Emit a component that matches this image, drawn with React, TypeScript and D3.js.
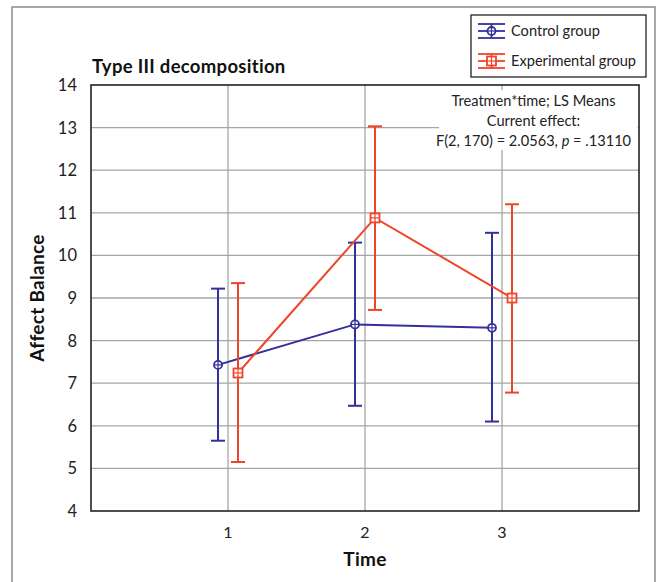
import React from "react";
import { scaleLinear, line } from "d3";

const times = [1, 2, 3];
const yTicks = [4, 5, 6, 7, 8, 9, 10, 11, 12, 13, 14];
const seriesNames = ["Control group", "Experimental group"];
const controlMean = [7.43, 8.38, 8.3];
const controlHigh = [9.22, 10.3, 10.53];
const controlLow = [5.65, 6.47, 6.1];
const expMean = [7.24, 10.88, 9.0];
const expHigh = [9.35, 13.03, 11.2];
const expLow = [5.15, 8.72, 6.78];
const annotation = ["Treatmen*time; LS Means", "Current effect:"];

const BLUE = "#34309a";
const RED = "#f0442a";
const FONT = "Lato, 'Open Sans', sans-serif";

const App = () => {
  const width = 660;
  const height = 582;
  const margin = { top: 85, right: 21, bottom: 71, left: 91 };
  const innerWidth = width - margin.left - margin.right;
  const innerHeight = height - margin.top - margin.bottom;

  const xScale = scaleLinear().domain([0, 4]).range([0, innerWidth]);
  const yScale = scaleLinear().domain([4, 14]).range([innerHeight, 0]);

  const series = [
    { name: seriesNames[0], color: BLUE, offset: -0.073, mean: controlMean, hi: controlHigh, lo: controlLow, marker: "circle" },
    { name: seriesNames[1], color: RED, offset: 0.073, mean: expMean, hi: expHigh, lo: expLow, marker: "square" },
  ];

  const marker = (kind: string, color: string, x: number, y: number, key?: string | number) =>
    kind === "circle" ? (
      <g key={key}>
        <circle cx={x} cy={y} r={4} fill="white" stroke={color} strokeWidth={1.8} />
        <line x1={x} x2={x} y1={y - 4} y2={y + 4} stroke={color} strokeWidth={1.2} />
        <line x1={x - 4} x2={x + 4} y1={y} y2={y} stroke={color} strokeWidth={1.2} />
      </g>
    ) : (
      <g key={key}>
        <rect x={x - 4.5} y={y - 4.5} width={9} height={9} fill="white" stroke={color} strokeWidth={1.8} />
        <line x1={x} x2={x} y1={y - 4.5} y2={y + 4.5} stroke={color} strokeWidth={1.2} />
        <line x1={x - 4.5} x2={x + 4.5} y1={y} y2={y} stroke={color} strokeWidth={1.2} />
      </g>
    );

  return (
    <svg width={width} height={height} style={{ position: "absolute", left: 0, top: 0, background: "white" }} fontFamily={FONT}>
      {/* outer frame */}
      <path d={`M12,${height + 2} V7 H655 V${height + 2}`} fill="none" stroke="#8a8a8a" strokeWidth={1.5} />

      <text x={92} y={73} fontSize={18.5} fontWeight="bold" letterSpacing={0.3} fill="#111">Type III decomposition</text>

      <g transform={`translate(${margin.left}, ${margin.top})`}>
        {/* grid */}
        {yTicks.slice(1, -1).map((t) => (
          <line key={"h" + t} x1={0} x2={innerWidth} y1={yScale(t)} y2={yScale(t)} stroke="#a6a6a6" strokeWidth={1.3} />
        ))}
        {times.map((t) => (
          <line key={"v" + t} x1={xScale(t)} x2={xScale(t)} y1={0} y2={innerHeight} stroke="#a6a6a6" strokeWidth={1.3} />
        ))}

        {/* annotation */}
        <rect x={xScale(2.54)} y={5} width={xScale(3.99) - xScale(2.54)} height={60} fill="white" />
        <g fontSize={14.6} fill="#222" textAnchor="middle">
          <text x={xScale(3.23)} y={21}>{annotation[0]}</text>
          <text x={xScale(3.23)} y={41}>{annotation[1]}</text>
          <text x={xScale(3.23)} y={61}>
            F(2, 170) = 2.0563, <tspan fontStyle="italic">p</tspan> = .13110
          </text>
        </g>

        {/* plot frame */}
        <rect x={0} y={0} width={innerWidth} height={innerHeight} fill="none" stroke="#222" strokeWidth={1.6} />

        {/* y tick labels */}
        {yTicks.map((t) => (
          <text key={"yl" + t} x={-14} y={yScale(t)} dy="0.36em" textAnchor="end" fontSize={16.5} fill="#222">{t}</text>
        ))}
        {/* x tick labels */}
        {times.map((t) => (
          <text key={"xl" + t} x={xScale(t)} y={innerHeight + 27} textAnchor="middle" fontSize={16} fill="#222">{t}</text>
        ))}

        {series.map((s, si) => {
          const pts = s.mean.map((m, i) => [xScale(times[i] + s.offset), yScale(m)] as [number, number]);
          return (
            <g key={si}>
              <path d={line()(pts) || ""} fill="none" stroke={s.color} strokeWidth={2} />
              {s.mean.map((m, i) => {
                const x = xScale(times[i] + s.offset);
                return (
                  <g key={i}>
                    <line x1={x} x2={x} y1={yScale(s.hi[i])} y2={yScale(s.lo[i])} stroke={s.color} strokeWidth={2} />
                    <line x1={x - 7} x2={x + 7} y1={yScale(s.hi[i])} y2={yScale(s.hi[i])} stroke={s.color} strokeWidth={2} />
                    <line x1={x - 7} x2={x + 7} y1={yScale(s.lo[i])} y2={yScale(s.lo[i])} stroke={s.color} strokeWidth={2} />
                  </g>
                );
              })}
              {pts.map((p, i) => marker(s.marker, s.color, p[0], p[1], "m" + i))}
            </g>
          );
        })}
      </g>

      {/* axis titles */}
      <text x={margin.left + xScale(2)} y={566} textAnchor="middle" fontSize={19} fontWeight="bold" letterSpacing={0.3} fill="#111">Time</text>
      <text transform={`translate(44, ${margin.top + innerHeight / 2}) rotate(-90)`} textAnchor="middle" fontSize={19} fontWeight="bold" letterSpacing={0.3} fill="#111">Affect Balance</text>

      {/* legend */}
      <rect x={471} y={15} width={175} height={62} fill="white" stroke="#222" strokeWidth={1.3} />
      {series.map((s, i) => {
        const cy = 31 + i * 30;
        return (
          <g key={"lg" + i}>
            <line x1={478} x2={505} y1={cy - 7} y2={cy - 7} stroke={s.color} strokeWidth={1.8} />
            <line x1={478} x2={505} y1={cy} y2={cy} stroke={s.color} strokeWidth={1.8} />
            <line x1={478} x2={505} y1={cy + 7} y2={cy + 7} stroke={s.color} strokeWidth={1.8} />
            <line x1={491.5} x2={491.5} y1={cy - 7} y2={cy + 7} stroke={s.color} strokeWidth={1.8} />
            {marker(s.marker, s.color, 491.5, cy)}
            <text x={511} y={cy} dy="0.35em" fontSize={14.6} fill="#222">{s.name}</text>
          </g>
        );
      })}
    </svg>
  );
};

export default App;
